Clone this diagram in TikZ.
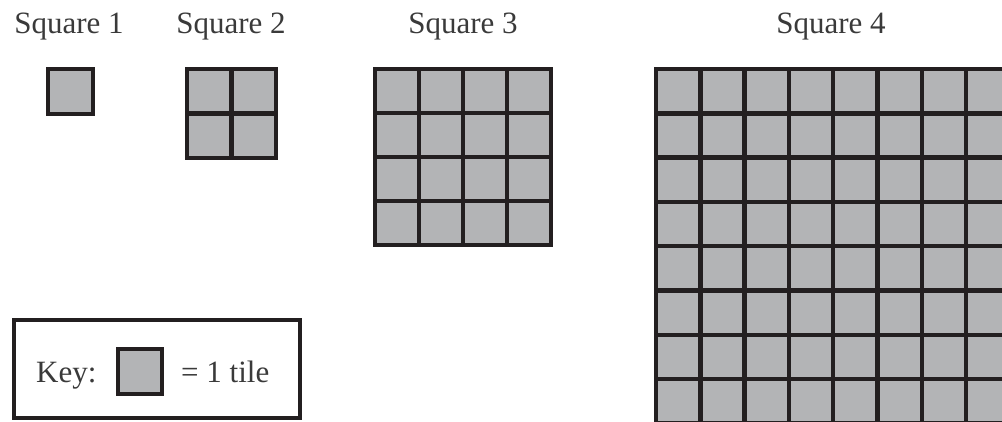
\documentclass[tikz,border=0pt]{standalone}
\usepackage{fontspec}
\setmainfont{Liberation Serif}
\definecolor{tilegray}{HTML}{B3B4B6}
\definecolor{ink}{HTML}{231F20}
\definecolor{textink}{HTML}{3A3A3A}
\tikzset{
  tilefill/.style={fill=tilegray},
  tileline/.style={draw=ink, line width=4.5pt, line cap=rect},
  keybox/.style={draw=ink, line width=3.5pt},
  lbl/.style={text=textink, font=\fontsize{31}{33}\selectfont, inner sep=0pt, anchor=base}
}
\newcommand\tilegrid[4]{%
  \fill[tilefill] (#1,#2) rectangle ++(#3*#4,#3*#4);
  \foreach \i in {0,...,#3}{%
    \draw[tileline] (#1+\i*#4,#2) -- ++(0,#3*#4);
    \draw[tileline] (#1,#2+\i*#4) -- ++(#3*#4,0);
  }%
}
\begin{document}
\begin{tikzpicture}[x=1pt,y=-1pt]
\clip (0,0) rectangle (1002,422);
\fill[white] (0,0) rectangle (1002,422);
% labels
\node[lbl] (l1) at (69,34) {Square 1};
\node[lbl] (l2) at (231,34) {Square 2};
\node[lbl] (l3) at (463,34) {Square 3};
\node[lbl] (l4) at (831,34) {Square 4};
% squares
\tilegrid{48}{69}{1}{45}
\tilegrid{187}{69}{2}{44.5}
\tilegrid{375}{69}{4}{44}
\tilegrid{656}{69}{8}{44.3}
% key
\draw[keybox] (14,320) rectangle (300,418);
\node[lbl, anchor=base west] (key) at (36,382) {Key:};
\fill[tilefill] (118,349) rectangle (162,394);
\draw[tileline] (118,349) rectangle (162,394);
\node[lbl, anchor=base west] (eq) at (181,382) {= 1 tile};
\end{tikzpicture}
\end{document}
